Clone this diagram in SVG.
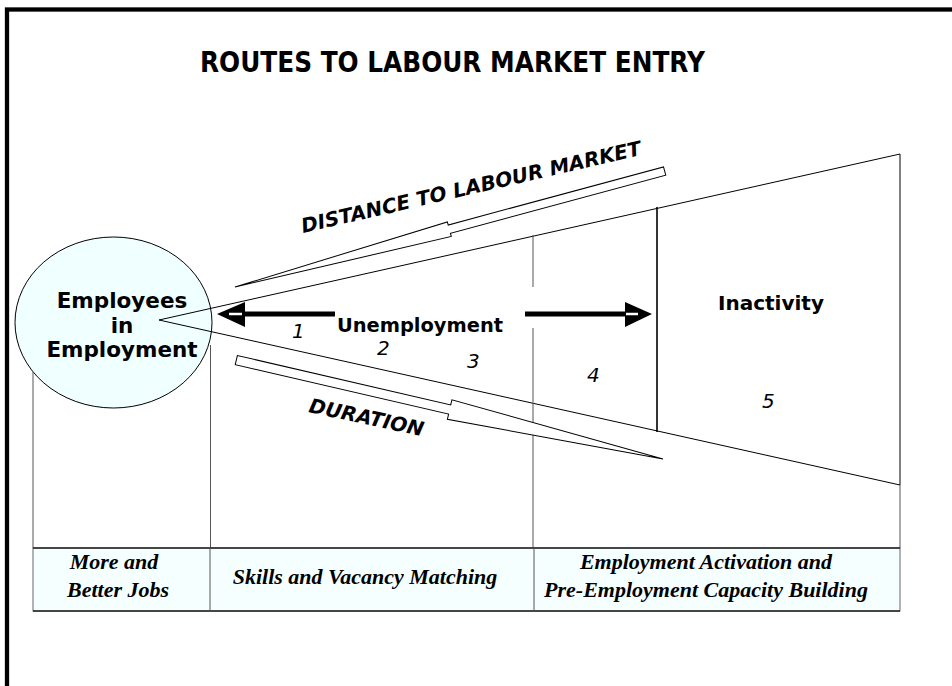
<svg xmlns="http://www.w3.org/2000/svg" width="952" height="686" viewBox="0 0 952 686">
<style>
  .line{stroke:#000;stroke-width:1;fill:none}
  .guide{stroke:#555;stroke-width:1;fill:none}
  .block{fill:#fff;stroke:#000;stroke-width:1;stroke-linejoin:miter}
  .solid{fill:#000;stroke:none}
  .bold{font-family:"DejaVu Sans",Verdana,sans-serif;font-weight:bold;fill:#000}
  .slant{font-family:"DejaVu Sans",Verdana,sans-serif;font-weight:bold;font-style:italic;font-size:20px;fill:#000}
  .num{font-family:"DejaVu Sans",Verdana,sans-serif;font-style:italic;font-size:20px;fill:#000}
  .cell{font-family:"Liberation Serif","Times New Roman",serif;font-weight:bold;font-style:italic;font-size:22px;text-anchor:middle;fill:#000}
</style>
<rect width="952" height="686" fill="#fff"/>
<!-- page frame -->
<rect x="7" y="9.5" width="1000" height="800" fill="none" stroke="#000" stroke-width="4.3"/>
<text id="title" class="bold" x="200" y="72" font-size="28" textLength="505" lengthAdjust="spacingAndGlyphs">ROUTES TO LABOUR MARKET ENTRY</text>

<g id="employment">
  <ellipse cx="113.5" cy="322.5" rx="98.5" ry="85.5" fill="#F0FFFF" stroke="#000" stroke-width="1"/>
  <text class="bold" font-size="21.5" text-anchor="middle" x="122" y="308">Employees</text>
  <text class="bold" font-size="21.5" text-anchor="middle" x="122" y="333">in</text>
  <text class="bold" font-size="21.5" text-anchor="middle" x="122" y="357">Employment</text>
</g>

<g id="connectors">
  <!-- funnel -->
  <polyline class="line" points="900,154 159,320 900,485"/>
  <line class="line" x1="900" y1="154" x2="900" y2="485"/>
  <line x1="657" y1="207" x2="657" y2="432" stroke="#000" stroke-width="1.6"/>
  <!-- guide lines down to the table -->
  <line class="guide" x1="33" y1="372" x2="33" y2="548"/>
  <line class="guide" x1="210.5" y1="345" x2="210.5" y2="548"/>
  <line class="guide" x1="533" y1="235" x2="533" y2="287"/>
  <line class="guide" x1="533" y1="328" x2="533" y2="548"/>
  <line class="guide" x1="900" y1="485" x2="900" y2="548"/>
  <!-- outlined block arrows -->
  <polygon class="block" transform="translate(235 287) rotate(-15.1)" points="0,0 222,-7.5 222,-4.3 445,-4.3 445,4.3 222,4.3 222,7.5"/>
  <polygon class="block" transform="translate(663 459) rotate(193.05)" points="0,0 219,-10 219,-4.7 438,-4.7 438,4.7 219,4.7 219,10"/>
  <!-- bold arrows -->
  <rect class="solid" x="244" y="311.5" width="91" height="5"/>
  <polygon class="solid" points="217,314 245,302 245,327"/>
  <line x1="229" y1="314" x2="242" y2="314" stroke="#fff" stroke-width="2.5"/>
  <rect class="solid" x="525" y="311.5" width="101" height="5"/>
  <polygon class="solid" points="652,314 625,302 625,327"/>
  <line x1="626" y1="314" x2="638" y2="314" stroke="#fff" stroke-width="2.5"/>
</g>

<text class="slant" x="303" y="233" transform="rotate(-13 303 233)">DISTANCE TO LABOUR MARKET</text>
<text class="slant" x="308" y="412" transform="rotate(12 308 412)">DURATION</text>

<g id="unemployment">
  <text class="bold" font-size="20" x="337" y="332" textLength="166" lengthAdjust="spacingAndGlyphs">Unemployment</text>
  <text class="num" x="292" y="338">1</text>
  <text class="num" x="377" y="355">2</text>
  <text class="num" x="467" y="368">3</text>
  <text class="num" x="587" y="382">4</text>
  <text class="num" x="762" y="408">5</text>
</g>

<g id="inactivity">
  <text class="bold" font-size="20" x="718" y="310">Inactivity</text>
</g>

<g id="measures">
  <rect x="33" y="548" width="867" height="63" fill="#F5FFFF" stroke="#666" stroke-width="1"/>
  <line x1="33" y1="548" x2="900" y2="548" stroke="#222" stroke-width="1.5"/>
  <line x1="33" y1="611" x2="900" y2="611" stroke="#222" stroke-width="1.5"/>
  <line class="guide" x1="210" y1="548" x2="210" y2="611"/>
  <line class="guide" x1="534" y1="548" x2="534" y2="611"/>
  <text class="cell" x="114" y="569">More and</text>
  <text class="cell" x="118" y="597">Better Jobs</text>
  <text class="cell" x="365" y="584">Skills and Vacancy Matching</text>
  <text class="cell" x="706" y="569">Employment Activation and</text>
  <text class="cell" x="706" y="597">Pre-Employment Capacity Building</text>
</g>
</svg>
